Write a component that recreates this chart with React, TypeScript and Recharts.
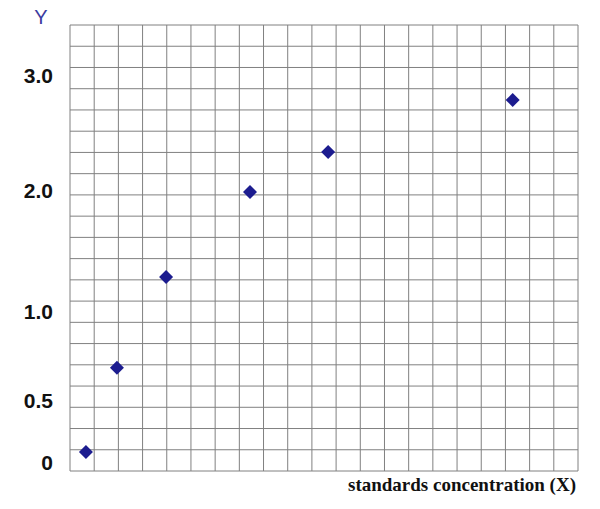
import React from 'react';
import { ScatterChart, Scatter, XAxis, YAxis, ReferenceLine } from 'recharts';

// positions are in grid squares (the paper has 21 x 21 squares)
const standardsX = [0.66, 1.94, 3.97, 7.44, 10.67, 18.3];
const standardsY = [0.89, 4.86, 9.13, 13.14, 15.02, 17.47];

const yTickPositions = [0.38, 3.3, 7.5, 13.2, 18.6];
const yTickLabels = ['0', '0.5', '1.0', '2.0', '3.0'];

const gridLines = Array.from({ length: 22 }, (_, i) => i);

const points = standardsX.map((x, i) => ({ x, y: standardsY[i] }));

const Diamond = (props: any) => {
  const { cx, cy } = props;
  const r = 7;
  return (
    <polygon
      points={`${cx},${cy - r} ${cx + r},${cy} ${cx},${cy + r} ${cx - r},${cy}`}
      fill="#1c1c8f"
    />
  );
};

export default function App() {
  return (
    <div style={{ position: 'absolute', left: 0, top: 0, background: '#fff' }}>
      <ScatterChart width={600} height={509} margin={{ top: 25, right: 22, left: 20, bottom: 0 }}>
        <XAxis
          type="number"
          dataKey="x"
          domain={[0, 21]}
          height={38}
          tick={false}
          axisLine={false}
          tickLine={false}
          label={{
            content: ({ viewBox }: any) => (
              <text
                x={viewBox.x + viewBox.width - 2}
                y={viewBox.y + 20}
                textAnchor="end"
                fontFamily="Liberation Serif"
                fontWeight="bold"
                fontSize={19}
                fill="#111"
              >
                standards concentration (X)
              </text>
            ),
          }}
        />
        <YAxis
          type="number"
          dataKey="y"
          domain={[0, 21]}
          width={50}
          ticks={yTickPositions}
          tickFormatter={(v: number) => yTickLabels[yTickPositions.indexOf(v)]}
          axisLine={false}
          tickLine={false}
          tickSize={0}
          tickMargin={17}
          tick={{ fontFamily: 'Liberation Sans', fontWeight: 'bold', fontSize: 21, fill: '#111' }}
          label={{
            content: ({ viewBox }: any) => (
              <text
                x={viewBox.x + 21}
                y={viewBox.y - 1}
                textAnchor="middle"
                fontFamily="Liberation Sans"
                fontSize={20}
                fill="#3c3ca0"
              >
                Y
              </text>
            ),
          }}
        />
        {gridLines.map((i) => (
          <ReferenceLine key={`v-${i}`} x={i} stroke="#808080" strokeWidth={1} />
        ))}
        {gridLines.map((i) => (
          <ReferenceLine key={`h-${i}`} y={i} stroke="#808080" strokeWidth={1} />
        ))}
        <Scatter data={points} shape={<Diamond />} isAnimationActive={false} />
      </ScatterChart>
    </div>
  );
}
